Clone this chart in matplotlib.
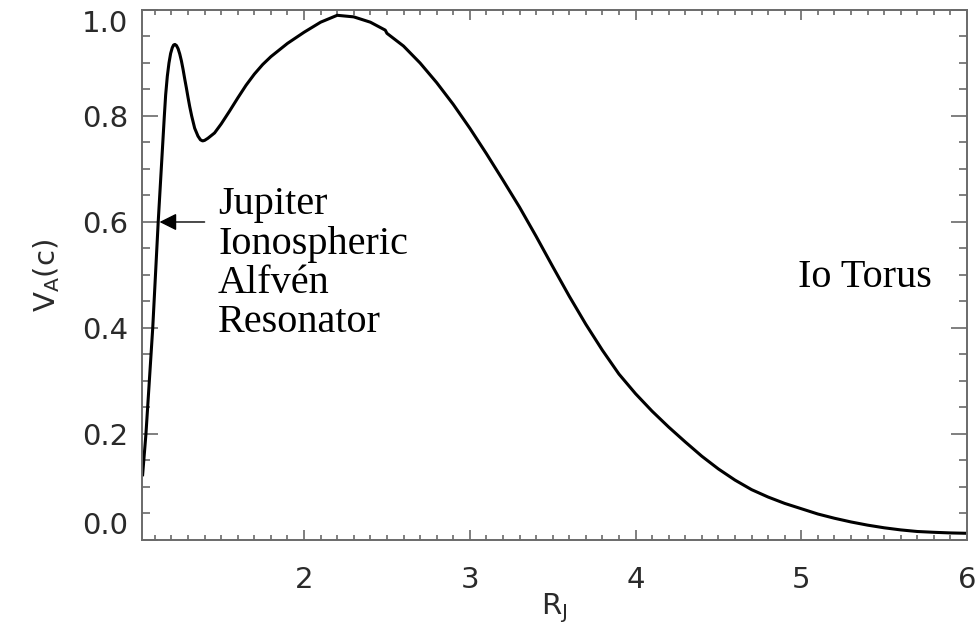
import numpy as np
import matplotlib.pyplot as plt
from matplotlib.ticker import MultipleLocator, FormatStrFormatter

# Alfven speed along the field line, in units of c, vs. distance in Jupiter radii
r_j = [1.026, 1.046, 1.087, 1.12, 1.157, 1.165, 1.175, 1.185, 1.195, 1.205,
       1.213, 1.221, 1.23, 1.24, 1.25, 1.26, 1.27, 1.28, 1.29, 1.30,
       1.31, 1.322, 1.34, 1.36, 1.375, 1.388, 1.40, 1.42, 1.46, 1.50,
       1.55, 1.60, 1.65, 1.70, 1.75, 1.80, 1.90, 2.00, 2.10, 2.20,
       2.30, 2.40, 2.49, 2.50, 2.60, 2.70, 2.80, 2.90, 3.00, 3.10,
       3.20, 3.30, 3.40, 3.50, 3.60, 3.70, 3.80, 3.90, 4.00, 4.10,
       4.20, 4.30, 4.40, 4.50, 4.60, 4.70, 4.80, 4.90, 5.00, 5.10,
       5.20, 5.30, 5.40, 5.50, 5.60, 5.70, 5.80, 5.90, 6.00]
v_a = [0.123, 0.200, 0.400, 0.600, 0.800, 0.840, 0.875, 0.900, 0.918, 0.929,
       0.934, 0.935, 0.933, 0.927, 0.917, 0.904, 0.888, 0.870, 0.853, 0.835,
       0.818, 0.800, 0.777, 0.762, 0.755, 0.753, 0.754, 0.758, 0.768, 0.785,
       0.809, 0.834, 0.858, 0.879, 0.897, 0.912, 0.937, 0.958, 0.977, 0.990,
       0.987, 0.977, 0.962, 0.956, 0.932, 0.900, 0.863, 0.822, 0.777, 0.729,
       0.679, 0.628, 0.573, 0.516, 0.460, 0.407, 0.358, 0.313, 0.276, 0.243,
       0.213, 0.185, 0.158, 0.134, 0.113, 0.095, 0.081, 0.069, 0.059, 0.049,
       0.041, 0.034, 0.028, 0.023, 0.019, 0.016, 0.0145, 0.0133, 0.0126]

jiar_label = 'Jupiter\nIonospheric\nAlfvén\nResonator'
torus_label = 'Io Torus'

plt.rcParams['font.family'] = 'DejaVu Sans'
plt.rcParams['mathtext.default'] = 'regular'

fig = plt.figure(figsize=(9.77, 6.41), dpi=100)
ax = fig.add_axes([0.1453, 0.1576, 0.8445, 0.8268])

ax.plot(r_j, v_a, color='black', lw=2.2, solid_joinstyle='round')

ax.set_xlim(1.022, 6.0)
ax.set_ylim(0.0, 1.0)

ax.xaxis.set_major_locator(MultipleLocator(1))
ax.xaxis.set_minor_locator(MultipleLocator(0.1))
ax.yaxis.set_major_locator(MultipleLocator(0.2))
ax.yaxis.set_minor_locator(MultipleLocator(0.05))
ax.xaxis.set_major_formatter(FormatStrFormatter('%d'))
ax.yaxis.set_major_formatter(FormatStrFormatter('%.1f'))

grey = '#6a6a6a'
for s in ax.spines.values():
    s.set_color(grey)
    s.set_linewidth(1.4)

ax.tick_params(axis='both', which='both', direction='in', color=grey,
               width=1.2, top=True, right=True, labelcolor='#2a2a2a',
               labelsize=21)
ax.tick_params(axis='x', which='major', length=7.5, pad=19)
ax.tick_params(axis='x', which='minor', length=3.8)
ax.tick_params(axis='y', which='major', length=11.5, pad=10)
ax.tick_params(axis='y', which='minor', length=5.8)

# keep the end labels inside the frame
fig.canvas.draw()
for lab in ax.get_yticklabels():
    if lab.get_text() == '0.0':
        lab.set_va('bottom')
    elif lab.get_text() == '1.0':
        lab.set_va('top')

ax.set_xlabel('$R_J$', fontsize=21, color='#2a2a2a', labelpad=-2)
ax.set_ylabel('$V_A(c)$', fontsize=21, color='#2a2a2a', labelpad=14)

# arrow pointing at the steep low-altitude rise
ax.annotate('', xy=(1.128, 0.6), xytext=(1.40, 0.6),
            arrowprops=dict(arrowstyle='-|>', color='black', lw=1.0,
                            mutation_scale=26, shrinkA=0, shrinkB=0))

ax.text(1.481, 0.667, jiar_label, family='Liberation Serif', fontsize=29,
        ha='left', va='top', linespacing=1.08, color='black')
ax.text(4.983, 0.477, torus_label, family='Liberation Serif', fontsize=29,
        ha='left', va='baseline', color='black')

fig.savefig('out.png', dpi=100, facecolor='white')
